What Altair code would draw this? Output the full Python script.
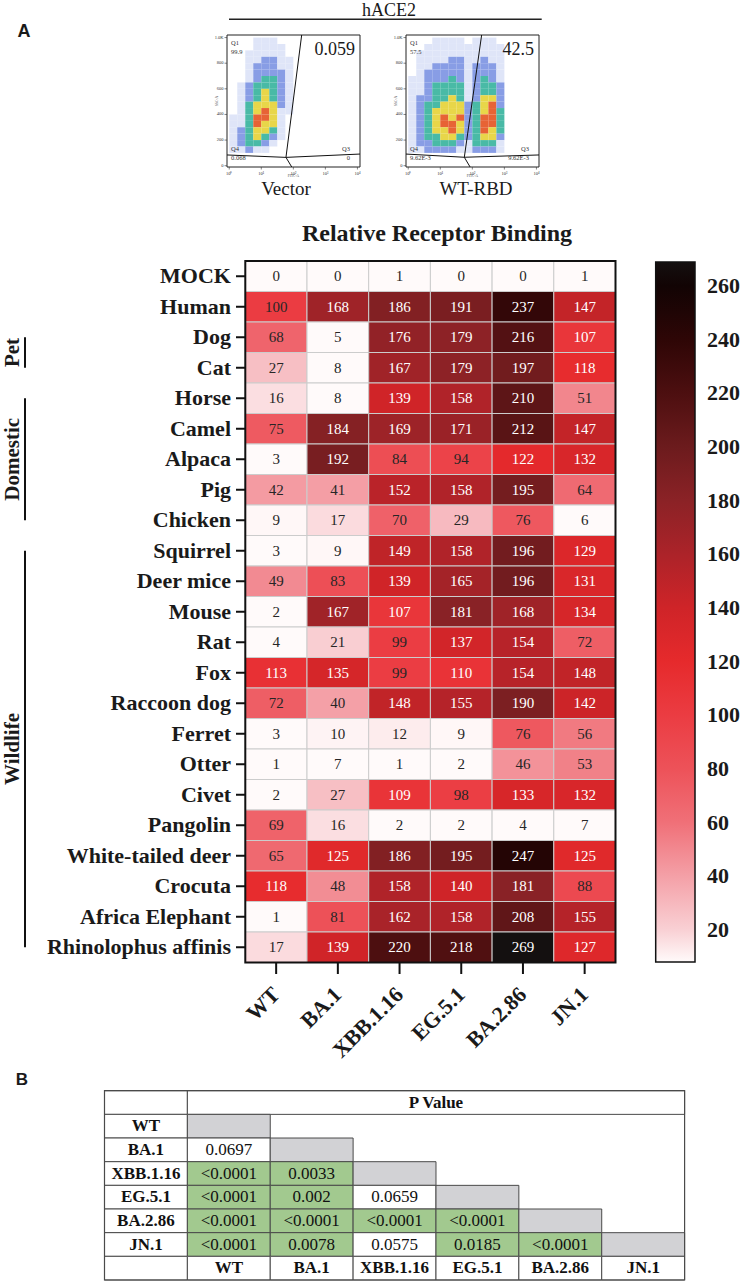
import altair as alt
import pandas as pd

SERIF = "Liberation Serif"
SANS = "Liberation Sans"
INK = "#1a1a1a"

# ---------------- Panel A (top): flow cytometry, FITC-A vs SSC-A ----------------
flow_x_ticks = [0, 1, 2, 3, 4]
flow_x_labels = ["10⁰", "10¹", "10²", "10³", "10⁴"]
flow_y_ticks = [0, 200, 400, 600, 800, 1000]
flow_y_labels = ["0", "200", "400", "600", "800", "1.0K"]
flow_e_domain = [-0.07, 4.08]      # log10(FITC-A)
flow_v_domain = [-10, 1020]        # SSC-A
density_e_step = 0.25
density_v_step = 50
density_v_top = 1000
density_colors = ["#dbe2f7", "#7b92e2", "#35b39c", "#e6d235", "#e4521f"]

# event density levels (0 = empty ... 5 = densest), rows from high SSC to low SSC
vector_density = [
    "0001110000000000",
    "0001111000000000",
    "0011111000000000",
    "0011221100000000",
    "0012221100000000",
    "0012222100000000",
    "0012332100000000",
    "0123332100000000",
    "0123432100000000",
    "0123432100000000",
    "0134442100000000",
    "0134541100000000",
    "1135541000000000",
    "1135441000000000",
    "1234431000000000",
    "1234321000000000",
    "1233210000000000",
    "1121100000000000",
    "0000000000000000",
    "0000000000000000",
]
wtrbd_density = [
    "0001111011100000",
    "0011111111110000",
    "0111111111110000",
    "0111122112110000",
    "0112222122210000",
    "0122222122210000",
    "1122232123210000",
    "1123333123320000",
    "1123333123320000",
    "1223343124420000",
    "1233444234520000",
    "1234444234530000",
    "1234545235530000",
    "1234554235530000",
    "1234454235430000",
    "1233443234420000",
    "1223332133310000",
    "1122221122210000",
    "0000000000000000",
    "0000000000000000",
]

# quadrant gates: centre vertex and the four arm ends (log10 FITC-A, SSC-A)
vector_gate_center = (1.77, 65)
vector_gate_ends = [(2.26, 1020), (1.95, -10), (-0.07, 84), (4.08, 91)]
wtrbd_gate_center = (1.75, 66)
wtrbd_gate_ends = [(2.29, 1020), (1.93, -10), (-0.07, 91), (4.08, 84)]

vector_quadrants = {"Q1": "99.9", "Q4": "0.068", "Q3": "0", "Q2": "0.059"}
wtrbd_quadrants = {"Q1": "57.5", "Q4": "9.62E-3", "Q3": "9.62E-3", "Q2": "42.5"}

# ---------------- Panel A (bottom): relative receptor binding heatmap ----------------
variants = ["WT", "BA.1", "XBB.1.16", "EG.5.1", "BA.2.86", "JN.1"]
species = ["MOCK", "Human", "Dog", "Cat", "Horse", "Camel", "Alpaca", "Pig",
           "Chicken", "Squirrel", "Deer mice", "Mouse", "Rat", "Fox",
           "Raccoon dog", "Ferret", "Otter", "Civet", "Pangolin",
           "White-tailed deer", "Crocuta", "Africa Elephant",
           "Rhinolophus affinis"]
binding = [
    [0, 0, 1, 0, 0, 1],
    [100, 168, 186, 191, 237, 147],
    [68, 5, 176, 179, 216, 107],
    [27, 8, 167, 179, 197, 118],
    [16, 8, 139, 158, 210, 51],
    [75, 184, 169, 171, 212, 147],
    [3, 192, 84, 94, 122, 132],
    [42, 41, 152, 158, 195, 64],
    [9, 17, 70, 29, 76, 6],
    [3, 9, 149, 158, 196, 129],
    [49, 83, 139, 165, 196, 131],
    [2, 167, 107, 181, 168, 134],
    [4, 21, 99, 137, 154, 72],
    [113, 135, 99, 110, 154, 148],
    [72, 40, 148, 155, 190, 142],
    [3, 10, 12, 9, 76, 56],
    [1, 7, 1, 2, 46, 53],
    [2, 27, 109, 98, 133, 132],
    [69, 16, 2, 2, 4, 7],
    [65, 125, 186, 195, 247, 125],
    [118, 48, 158, 140, 181, 88],
    [1, 81, 162, 158, 208, 155],
    [17, 139, 220, 218, 269, 127],
]
group_names = ["Pet", "Domestic", "Wildlife"]
group_first = ["Dog", "Horse", "Squirrel"]
group_last = ["Cat", "Chicken", "Rhinolophus affinis"]

colorbar_ticks = [20, 40, 60, 80, 100, 120, 140, 160, 180, 200, 220, 240, 260]
color_stops = [8, 20, 40, 60, 80, 100, 120, 140, 160, 180, 200, 220, 240, 260, 269]
stop_colors = ["#fffafa", "#f9d0d4", "#f4a0a7", "#f07078", "#ed5259", "#eb3c42",
               "#e62a2c", "#cf2428", "#ac2329", "#8b2226", "#6c1b1d", "#4d0f10",
               "#2e0606", "#120404", "#141010"]
light_text_from = 105

# ---------------- Panel B: pairwise P values ----------------
p_values = [
    [],
    ["0.0697"],
    ["<0.0001", "0.0033"],
    ["<0.0001", "0.002", "0.0659"],
    ["<0.0001", "<0.0001", "<0.0001", "<0.0001"],
    ["<0.0001", "0.0078", "0.0575", "0.0185", "<0.0001"],
]
alpha = 0.05


def blank():
    return alt.Chart(alt.Data(values=[{}]))


def note(text, x, y, size, weight="normal", font=SERIF, align="center",
         baseline="middle", angle=0, color=INK):
    return blank().mark_text(text=text, align=align, baseline=baseline, angle=angle,
                             fontSize=size, fontWeight=weight, font=font,
                             color=color).encode(x=alt.value(x), y=alt.value(y))


# ---------------- flow panels ----------------
FLOW_TOP, FLOW_BOTTOM = 35, 167


def flow_panel(density, gate_center, gate_ends, quads, x_px):
    x0, x1 = x_px
    fx = alt.Scale(domain=flow_e_domain, range=x_px, nice=False, zero=False)
    fy = alt.Scale(domain=flow_v_domain, range=[FLOW_BOTTOM, FLOW_TOP], nice=False, zero=False)

    recs = []
    for j, row in enumerate(density):
        v_hi = density_v_top - density_v_step * j
        for k, ch in enumerate(row):
            if ch != "0":
                recs.append(dict(e0=density_e_step * k, e1=density_e_step * (k + 1),
                                 v0=v_hi - density_v_step, v1=v_hi, level=int(ch)))
    dens = alt.Chart(pd.DataFrame(recs)).mark_rect(opacity=0.9).encode(
        x=alt.X("e0:Q", scale=fx, axis=None), x2="e1:Q",
        y=alt.Y("v0:Q", scale=fy, axis=None), y2="v1:Q",
        color=alt.Color("level:O", scale=alt.Scale(domain=[1, 2, 3, 4, 5], range=density_colors),
                        legend=None),
    )

    frame_df = pd.DataFrame([dict(e0=flow_e_domain[0], e1=flow_e_domain[1],
                                  v0=flow_v_domain[0], v1=flow_v_domain[1])])
    frame = alt.Chart(frame_df).mark_rect(fillOpacity=0, stroke="#222", strokeWidth=1).encode(
        x=alt.X("e0:Q", scale=fx, axis=None), x2="e1:Q",
        y=alt.Y("v0:Q", scale=fy, axis=None), y2="v1:Q")

    gx, gy = gate_center
    gate_df = pd.DataFrame([dict(x=gx, y=gy, x2=ex, y2=ey) for ex, ey in gate_ends])
    gate = alt.Chart(gate_df).mark_rule(color="#111", strokeWidth=1).encode(
        x=alt.X("x:Q", scale=fx, axis=None), x2="x2:Q",
        y=alt.Y("y:Q", scale=fy, axis=None), y2="y2:Q")

    yt = pd.DataFrame({"v": flow_y_ticks, "label": flow_y_labels})
    ytick = alt.Chart(yt).mark_rule(color="#333", strokeWidth=0.6).encode(
        x=alt.value(x0 - 2.5), x2=alt.value(x0), y=alt.Y("v:Q", scale=fy, axis=None))
    ylab = alt.Chart(yt).mark_text(align="right", baseline="middle", fontSize=4.5,
                                   font=SERIF, color="#333").encode(
        x=alt.value(x0 - 3.5), y=alt.Y("v:Q", scale=fy, axis=None), text="label:N")

    xt = pd.DataFrame({"e": flow_x_ticks, "label": flow_x_labels})
    xtick = alt.Chart(xt).mark_rule(color="#333", strokeWidth=0.6).encode(
        x=alt.X("e:Q", scale=fx, axis=None), y=alt.value(FLOW_BOTTOM), y2=alt.value(FLOW_BOTTOM + 2.5))
    xlab = alt.Chart(xt).mark_text(align="center", baseline="top", fontSize=4.5,
                                   font=SERIF, color="#333").encode(
        x=alt.X("e:Q", scale=fx, axis=None), y=alt.value(FLOW_BOTTOM + 3.5), text="label:N")

    mid = (x0 + x1) / 2
    labels = [
        note("SSC-A", x0 - 10, (FLOW_TOP + FLOW_BOTTOM) / 2, 3.5, angle=270, color="#444"),
        note("FITC-A", mid, FLOW_BOTTOM + 8.5, 3.5, color="#444"),
        note("Q1", x0 + 4, 43, 6.5, align="left", color="#333"),
        note(quads["Q1"], x0 + 4, 51.5, 6.5, align="left", color="#333"),
        note("Q4", x0 + 4, 149, 6.5, align="left", color="#333"),
        note(quads["Q4"], x0 + 4, 158, 6.5, align="left", color="#333"),
        note("Q3", x1 - 10, 149, 6.5, align="right", color="#333"),
        note(quads["Q3"], x1 - 10, 158, 6.5, align="right", color="#333"),
        note(quads["Q2"], x1 - 5, 50, 18, align="right"),
    ]
    return alt.layer(dens, frame, gate, ytick, ylab, xtick, xlab, *labels)


vector_panel = flow_panel(vector_density, vector_gate_center, vector_gate_ends,
                          vector_quadrants, [227, 360])
wtrbd_panel = flow_panel(wtrbd_density, wtrbd_gate_center, wtrbd_gate_ends,
                         wtrbd_quadrants, [406, 539])

header = alt.layer(
    note("A", 24, 32, 18, weight="bold", font=SANS),
    note("hACE2", 389, 11, 18),
    blank().mark_rule(color="#222", strokeWidth=1.5).encode(
        x=alt.value(229), x2=alt.value(541.7), y=alt.value(19.3)),
    note("Vector", 286, 189, 19),
    note("WT-RBD", 476, 189, 19),
)

# ---------------- heatmap ----------------
n_var, n_sp = len(variants), len(species)
hx = alt.Scale(domain=[-0.5, n_var - 0.5], range=[245.3, 615.5], nice=False, zero=False)
hy = alt.Scale(domain=[-0.5, n_sp - 0.5], range=[261, 962.5], nice=False, zero=False)

cells = pd.DataFrame([
    dict(species=s, variant=v, value=binding[i][j], row=i, col=j,
         x0=j - 0.5, x1=j + 0.5, y0=i - 0.5, y1=i + 0.5)
    for i, s in enumerate(species) for j, v in enumerate(variants)
])
row_df = pd.DataFrame({"species": species, "row": range(n_sp)})
col_df = pd.DataFrame({"variant": variants, "col": range(n_var)})
grp_df = pd.DataFrame({
    "group": group_names,
    "first": [species.index(s) for s in group_first],
    "last": [species.index(s) for s in group_last],
})
grp_df["mid"] = (grp_df["first"] + grp_df["last"]) / 2
hframe_df = pd.DataFrame([dict(x0=-0.5, x1=n_var - 0.5, y0=-0.5, y1=n_sp - 0.5)])

heat_scale = alt.Scale(domain=color_stops, range=stop_colors, interpolate="rgb", clamp=True)
heat_legend = alt.Legend(
    orient="none", legendX=655.7, legendY=262, direction="vertical",
    gradientLength=700, gradientThickness=39.3, values=colorbar_ticks,
    labelFont=SERIF, labelFontSize=22, labelFontWeight="bold", labelColor=INK,
    labelOffset=12, gradientStrokeColor="#111", gradientStrokeWidth=1.5, padding=0,
)

heat_rect = alt.Chart(cells).mark_rect(stroke="#cccccc", strokeWidth=1).encode(
    x=alt.X("x0:Q", scale=hx, axis=None), x2="x1:Q",
    y=alt.Y("y0:Q", scale=hy, axis=None), y2="y1:Q",
    color=alt.Color("value:Q", scale=heat_scale, legend=heat_legend, title=None),
)
heat_text = alt.Chart(cells).mark_text(fontSize=15, font=SERIF, baseline="middle").encode(
    x=alt.X("col:Q", scale=hx, axis=None),
    y=alt.Y("row:Q", scale=hy, axis=None),
    text="value:Q",
    color=alt.condition(f"datum.value >= {light_text_from}", alt.value("white"), alt.value("#262626")),
)
heat_frame = alt.Chart(hframe_df).mark_rect(fillOpacity=0, stroke="#111", strokeWidth=2).encode(
    x=alt.X("x0:Q", scale=hx, axis=None), x2="x1:Q",
    y=alt.Y("y0:Q", scale=hy, axis=None), y2="y1:Q")
row_labels = alt.Chart(row_df).mark_text(align="right", baseline="middle", fontSize=22,
                                         fontWeight="bold", font=SERIF, color=INK).encode(
    x=alt.value(231), y=alt.Y("row:Q", scale=hy, axis=None), text="species:N")
row_ticks = alt.Chart(row_df).mark_rule(color="#111", strokeWidth=2).encode(
    x=alt.value(236), x2=alt.value(245.3), y=alt.Y("row:Q", scale=hy, axis=None))
col_labels = alt.Chart(col_df).mark_text(angle=315, align="right", baseline="middle",
                                         fontSize=22, fontWeight="bold", font=SERIF,
                                         color=INK).encode(
    x=alt.X("col:Q", scale=hx, axis=None), y=alt.value(991), text="variant:N")
col_ticks = alt.Chart(col_df).mark_rule(color="#111", strokeWidth=2).encode(
    x=alt.X("col:Q", scale=hx, axis=None), y=alt.value(962.5), y2=alt.value(974))
grp_lines = alt.Chart(grp_df).mark_rule(color="#111", strokeWidth=2).encode(
    x=alt.value(25), y=alt.Y("first:Q", scale=hy, axis=None), y2="last:Q")
grp_text = alt.Chart(grp_df).mark_text(angle=270, align="center", baseline="middle",
                                       fontSize=21, fontWeight="bold", font=SERIF,
                                       color=INK).encode(
    x=alt.value(12.5), y=alt.Y("mid:Q", scale=hy, axis=None), text="group:N")

heatmap = alt.layer(heat_rect, heat_text, heat_frame, row_labels, row_ticks,
                    col_labels, col_ticks, grp_lines, grp_text,
                    note("Relative Receptor Binding", 437, 234, 24, weight="bold"))

# tick marks on both edges of the colour bar
cb_scale = alt.Scale(domain=[color_stops[0], color_stops[-1]], range=[962, 262], nice=False, zero=False)
cb_df = pd.DataFrame({"t": colorbar_ticks})
cb_ticks = alt.layer(
    alt.Chart(cb_df).mark_rule(color="#222", strokeWidth=1.5).encode(
        x=alt.value(655.7), x2=alt.value(661), y=alt.Y("t:Q", scale=cb_scale, axis=None)),
    alt.Chart(cb_df).mark_rule(color="#222", strokeWidth=1.5).encode(
        x=alt.value(689.7), x2=alt.value(695), y=alt.Y("t:Q", scale=cb_scale, axis=None)),
)

# ---------------- P value table ----------------
tx = alt.Scale(domain=[-1.5, n_var - 0.5], range=[104.5, 684.6], nice=False, zero=False)
ty = alt.Scale(domain=[-1.5, n_var + 0.5], range=[1090.7, 1280], nice=False, zero=False)

t_cells, t_bold, t_plain = [], [], []


def cell(c0, c1, r, kind):
    t_cells.append(dict(x0=c0 - 0.5, x1=c1 + 0.5, y0=r - 0.5, y1=r + 0.5, kind=kind))


cell(-1, -1, -1, "label")
cell(0, n_var - 1, -1, "label")
t_bold.append(dict(x=(n_var - 1) / 2, y=-1, text="P Value"))
for i, v in enumerate(variants):
    cell(-1, -1, i, "label")
    t_bold.append(dict(x=-1, y=i, text=v))
    for j, p in enumerate(p_values[i]):
        sig = float(p.lstrip("<")) < alpha
        cell(j, j, i, "sig" if sig else "ns")
        t_plain.append(dict(x=j, y=i, text=p))
    cell(i, i, i, "diag")
cell(-1, -1, n_var, "label")
for j, v in enumerate(variants):
    cell(j, j, n_var, "label")
    t_bold.append(dict(x=j, y=n_var, text=v))

table_rect = alt.Chart(pd.DataFrame(t_cells)).mark_rect(stroke="#4a4a4a", strokeWidth=1).encode(
    x=alt.X("x0:Q", scale=tx, axis=None), x2="x1:Q",
    y=alt.Y("y0:Q", scale=ty, axis=None), y2="y1:Q",
    color=alt.Color("kind:N", scale=alt.Scale(domain=["label", "ns", "sig", "diag"],
                                              range=["#ffffff", "#ffffff", "#a2c98f", "#d2d2d5"]),
                    legend=None),
)
tframe_df = pd.DataFrame([dict(x0=-1.5, x1=n_var - 0.5, y0=-1.5, y1=n_var + 0.5)])
table_frame = alt.Chart(tframe_df).mark_rect(fillOpacity=0, stroke="#4a4a4a", strokeWidth=1.2).encode(
    x=alt.X("x0:Q", scale=tx, axis=None), x2="x1:Q",
    y=alt.Y("y0:Q", scale=ty, axis=None), y2="y1:Q")
table_bold = alt.Chart(pd.DataFrame(t_bold)).mark_text(fontSize=17, fontWeight="bold",
                                                       font=SERIF, color="#111",
                                                       baseline="middle").encode(
    x=alt.X("x:Q", scale=tx, axis=None), y=alt.Y("y:Q", scale=ty, axis=None), text="text:N")
table_plain = alt.Chart(pd.DataFrame(t_plain)).mark_text(fontSize=17, font=SERIF, color="#111",
                                                         baseline="middle").encode(
    x=alt.X("x:Q", scale=tx, axis=None), y=alt.Y("y:Q", scale=ty, axis=None), text="text:N")

table = alt.layer(table_rect, table_frame, table_bold, table_plain,
                  note("B", 22, 1080, 17, weight="bold", font=SANS))

chart = alt.layer(
    header, vector_panel, wtrbd_panel, heatmap, cb_ticks, table
).resolve_scale(
    x="independent", y="independent", color="independent"
).properties(
    width=748, height=1282, padding=0,
    autosize=alt.AutoSizeParams(type="none"),
).configure_view(stroke=None)

chart.save("out.html", embed_options={"renderer": "svg", "actions": False})
